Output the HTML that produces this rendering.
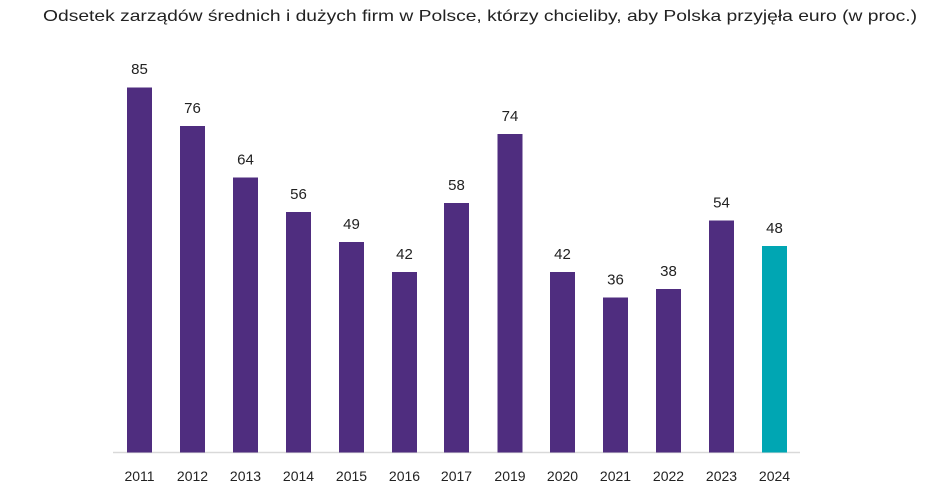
<!DOCTYPE html>
<html><head><meta charset="utf-8"><style>
html,body{margin:0;padding:0;background:#fff;}
svg{display:block;}
text{font-family:"Liberation Sans","DejaVu Sans",sans-serif;fill:#222;}
</style></head><body>
<svg width="948" height="489" viewBox="0 0 948 489" xmlns="http://www.w3.org/2000/svg">
<text x="43" y="21" font-size="16" textLength="874" lengthAdjust="spacingAndGlyphs">Odsetek zarządów średnich i dużych firm w Polsce, którzy chcieliby, aby Polska przyjęła euro (w proc.)</text>
<line x1="113" y1="452.5" x2="800" y2="452.5" stroke="#d9d9d9" stroke-width="1.5"/>
<g fill="#4f2d7f">
<rect x="127" y="87.5" width="25" height="365"/>
<rect x="180" y="126" width="25" height="326.5"/>
<rect x="233" y="177.5" width="25" height="275"/>
<rect x="286" y="212" width="25" height="240.5"/>
<rect x="339" y="242" width="25" height="210.5"/>
<rect x="392" y="272" width="25" height="180.5"/>
<rect x="444" y="203" width="25" height="249.5"/>
<rect x="497.5" y="134" width="25" height="318.5"/>
<rect x="550" y="272" width="25" height="180.5"/>
<rect x="603" y="297.5" width="25" height="155"/>
<rect x="656" y="289" width="25" height="163.5"/>
<rect x="709" y="220.5" width="25" height="232"/>
</g>
<rect x="762" y="246" width="25" height="206.5" fill="#00a6b3"/>
<g font-size="15" text-anchor="middle">
<text x="139.5" y="74">85</text>
<text x="192.5" y="113">76</text>
<text x="245.5" y="164.5">64</text>
<text x="298.5" y="199">56</text>
<text x="351.5" y="229">49</text>
<text x="404.5" y="259">42</text>
<text x="456.5" y="190">58</text>
<text x="510" y="121">74</text>
<text x="562.5" y="259">42</text>
<text x="615.5" y="284.5">36</text>
<text x="668.5" y="276">38</text>
<text x="721.5" y="207.5">54</text>
<text x="774.5" y="233">48</text>
</g>
<g font-size="14" text-anchor="middle">
<text x="139.5" y="481">2011</text>
<text x="192.5" y="481">2012</text>
<text x="245.5" y="481">2013</text>
<text x="298.5" y="481">2014</text>
<text x="351.5" y="481">2015</text>
<text x="404.5" y="481">2016</text>
<text x="456.5" y="481">2017</text>
<text x="510" y="481">2019</text>
<text x="562.5" y="481">2020</text>
<text x="615.5" y="481">2021</text>
<text x="668.5" y="481">2022</text>
<text x="721.5" y="481">2023</text>
<text x="774.5" y="481">2024</text>
</g>
</svg>
</body></html>
